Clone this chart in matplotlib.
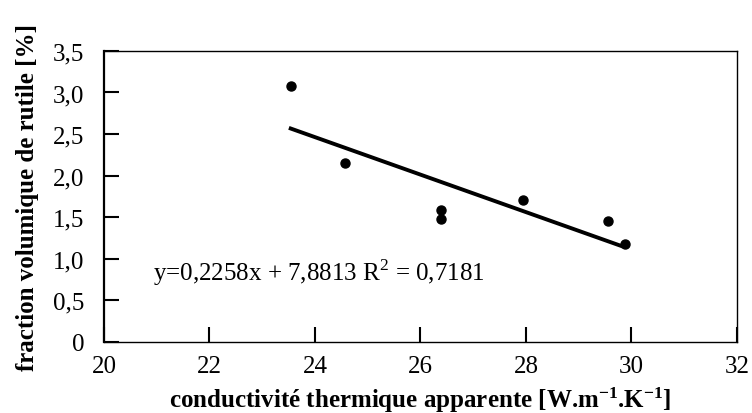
import matplotlib
matplotlib.use("Agg")
import matplotlib.pyplot as plt
import numpy as np

# data
conductivite = [23.54, 24.56, 26.38, 26.38, 27.94, 29.55, 29.88]
fraction = [3.08, 2.15, 1.59, 1.48, 1.71, 1.45, 1.18]
pente = -0.2258
ordonnee = 7.8813
equation = "y=0,2258x + 7,8813 R$^2$ = 0,7181"
xticks = [20, 22, 24, 26, 28, 30, 32]
yticks = [0, 0.5, 1.0, 1.5, 2.0, 2.5, 3.0, 3.5]
ytick_labels = ["0", "0,5", "1,0", "1,5", "2,0", "2,5", "3,0", "3,5"]

plt.rcParams['font.family'] = ['Liberation Serif', 'DejaVu Serif']
plt.rcParams['mathtext.fontset'] = 'custom'
plt.rcParams['mathtext.rm'] = 'Liberation Serif'
plt.rcParams['mathtext.bf'] = 'Liberation Serif:bold'

fig = plt.figure(figsize=(7.52, 4.14), dpi=100)
ax = fig.add_axes([0.1383, 0.1727, 0.8417, 0.7017])

ax.plot(conductivite, fraction, 'o', color='black', markersize=6.5)

# trend line from the fit coefficients
xl = np.array([min(conductivite), max(conductivite) - 0.08])
ax.plot(xl, pente * xl + ordonnee, color='black', linewidth=2.8)

ax.set_xlim(20, 32)
ax.set_ylim(0, 3.5)
ax.set_xticks(xticks)
ax.set_yticks(yticks)
ax.set_yticklabels(ytick_labels)
ax.tick_params(direction='in', length=11, width=1.5, labelsize=18, colors='black')
ax.tick_params(axis='x', pad=10)
ax.tick_params(axis='y', pad=14)

for s in ['top', 'right', 'bottom']:
    ax.spines[s].set_linewidth(1.0)
ax.spines['left'].set_linewidth(1.6)

ax.text(20.92, 0.84, equation, fontsize=18, va='center', ha='left')

ax.set_xlabel(r"conductivité thermique apparente [W.m$\mathbf{^{-1}}$.K$\mathbf{^{-1}}$]",
              fontsize=18, fontweight='bold', labelpad=5)
ax.set_ylabel("fraction volumique de rutile [%]", fontsize=18, fontweight='bold', labelpad=10)

fig.savefig("out.png", dpi=100)
